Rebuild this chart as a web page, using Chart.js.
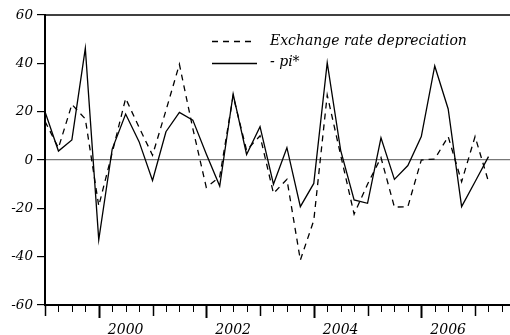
<!DOCTYPE html>
<html>
<head>
<meta charset="utf-8">
<script src="https://cdn.jsdelivr.net/npm/chart.js@4.4.1/dist/chart.umd.min.js"></script>
<style>
  body { margin: 0; background: #fff; }
  #wrap { position: relative; width: 510px; height: 335px; }
</style>
</head>
<body>
<div id="wrap"><canvas id="myLineChart"></canvas></div>
<script>
// quarterly observations, 1999Q1 .. 2007Q2
var quarters = ['1999Q1','1999Q2','1999Q3','1999Q4','2000Q1','2000Q2','2000Q3','2000Q4',
                '2001Q1','2001Q2','2001Q3','2001Q4','2002Q1','2002Q2','2002Q3','2002Q4',
                '2003Q1','2003Q2','2003Q3','2003Q4','2004Q1','2004Q2','2004Q3','2004Q4',
                '2005Q1','2005Q2','2005Q3','2005Q4','2006Q1','2006Q2','2006Q3','2006Q4',
                '2007Q1','2007Q2'];
var exch_depr = [16, 5, 23, 17, -19, 3, 25.5, 13.5, 2, 20.5, 39.6, 13, -11.3, -7, 26.5, 4,
                 10, -13.8, -8, -41.4, -25, 26.9, 2, -22.4, -10, 1, -19.5, -19.3, 0, 0.4, 9.7, -9,
                 9.7, -9];
var minus_pi = [20, 3.7, 8.3, 46.2, -33, 4.5, 19, 7.6, -8.5, 11.7, 19.7, 16.5, 2.5, -10.8, 27.3, 2.3,
                13.8, -10, 5.1, -19.3, -9.7, 40.3, 4, -16.5, -17.9, 9.2, -8, -2.3, 9.7, 38.9, 21.1, -19.3,
                -9, 1.4];
var seriesNames = ['Exchange rate depreciation', '- pi*'];
var yearLabels = ['2000', '2002', '2004', '2006'];
var yTicks = [-60, -40, -20, 0, 20, 40, 60];

var serif = '"DejaVu Serif", "Liberation Serif", serif';

function toPoints(vals){
    return vals.map(function(v, i){ return {x: i, y: v}; });
}

// x axis tick marks, top frame line and the legend
var decorations = {
    id: 'decorations',
    afterDraw: function(chart){
        var c = chart.ctx, a = chart.chartArea, xs = chart.scales.x;
        c.save();
        c.strokeStyle = '#000';
        // top frame
        c.lineWidth = 1.5;
        c.beginPath(); c.moveTo(a.left, a.top); c.lineTo(a.right, a.top); c.stroke();
        // quarter ticks, longer at each year
        for (var i = 0; i <= Math.floor(xs.max); i++) {
            var px = Math.round(xs.getPixelForValue(i)) + 0.5;
            var len = 7, w = 1;
            if (i % 4 === 0) {
                var yr = 1999 + i / 4;
                if (yr % 2 === 0) { len = 13; w = 2; } else { len = 11; w = 1.5; }
            }
            c.lineWidth = w;
            c.beginPath(); c.moveTo(px, a.bottom); c.lineTo(px, a.bottom + len); c.stroke();
        }
        // legend
        c.lineWidth = 1.3;
        c.setLineDash([6, 5]);
        c.beginPath(); c.moveTo(212, 41.5); c.lineTo(256, 41.5); c.stroke();
        c.setLineDash([]);
        c.beginPath(); c.moveTo(212, 63.5); c.lineTo(257, 63.5); c.stroke();
        c.fillStyle = '#000';
        c.font = 'italic 14px ' + serif;
        c.textBaseline = 'middle';
        c.fillText(seriesNames[0], 270, 41);
        c.fillText(seriesNames[1], 270, 62);
        c.restore();
    }
};

var ctx = document.getElementById('myLineChart');
var myLineChart = new Chart(ctx, {
    type: 'line',
    data: {
        datasets: [{
            label: seriesNames[0],
            data: toPoints(exch_depr),
            borderColor: '#000',
            borderWidth: 1.3,
            borderDash: [6, 5],
            pointRadius: 0,
            tension: 0,
            fill: false
        }, {
            label: seriesNames[1],
            data: toPoints(minus_pi),
            borderColor: '#000',
            borderWidth: 1.3,
            pointRadius: 0,
            tension: 0,
            fill: false
        }]
    },
    options: {
        responsive: true,
        maintainAspectRatio: false,
        animation: false,
        layout: { padding: { top: 15, right: 0, left: 0, bottom: 0 } },
        plugins: {
            legend: { display: false },
            tooltip: { enabled: false }
        },
        scales: {
            x: {
                type: 'linear',
                min: 0,
                max: 34.6,
                afterBuildTicks: function(scale){
                    scale.ticks = yearLabels.map(function(y){
                        return {value: quarters.indexOf(y + 'Q1') + 2, label: y};
                    });
                },
                afterFit: function(scale){ scale.height = 30; },
                grid: { display: false },
                border: { display: true, color: '#000', width: 2 },
                ticks: {
                    autoSkip: false,
                    maxRotation: 0,
                    padding: 9,
                    color: '#000',
                    font: { family: serif, size: 14, style: 'italic' },
                    callback: function(val, idx, ticks){ return ticks[idx].label; }
                }
            },
            y: {
                min: -60,
                max: 60,
                afterBuildTicks: function(scale){
                    scale.ticks = yTicks.map(function(v){ return {value: v}; });
                },
                afterFit: function(scale){ scale.width = 45; },
                grid: {
                    drawOnChartArea: true,
                    color: function(c){ return c.tick && c.tick.value === 0 ? '#777' : 'rgba(0,0,0,0)'; },
                    lineWidth: 1.2,
                    tickColor: '#000',
                    tickLength: 8
                },
                border: { display: true, color: '#000', width: 2 },
                ticks: {
                    padding: 4,
                    color: '#000',
                    font: { family: serif, size: 13.5, style: 'italic' }
                }
            }
        }
    },
    plugins: [decorations]
});
</script>
</body>
</html>
